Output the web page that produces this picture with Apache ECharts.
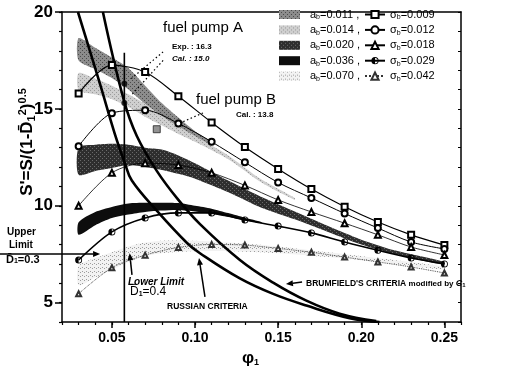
<!DOCTYPE html>
<html><head><meta charset="utf-8">
<script src="https://cdn.jsdelivr.net/npm/echarts@6/dist/echarts.min.js"></script>
<style>html,body{margin:0;padding:0;background:#fff}#c{width:506px;height:378px}</style>
</head><body><div id="c"></div><script>
// ---------- data ----------
const phi = [0.03,0.05,0.07,0.09,0.11,0.13,0.15,0.17,0.19,0.21,0.23,0.25];
const sig009 = [15.8,17.26,16.9,15.65,14.3,13.03,11.9,10.86,9.95,9.16,8.5,7.97];
const sig012 = [13.07,14.78,14.93,14.25,13.3,12.24,11.2,10.4,9.6,8.85,8.13,7.77];
const sig018 = [10.0,11.7,12.2,12.1,11.7,11.05,10.3,9.68,9.1,8.5,7.87,7.46];
const sig029 = [7.2,8.65,9.37,9.63,9.63,9.27,8.95,8.6,8.13,7.7,7.3,7.0];
const sig042 = [5.46,6.8,7.45,7.85,8.0,7.97,7.8,7.6,7.35,7.1,6.84,6.53];
const lineNames = ['σ_b=0.009','σ_b=0.012','σ_b=0.018','σ_b=0.029','σ_b=0.042'];
const bandNames = ['a_b=0.011','a_b=0.014','a_b=0.020','a_b=0.036','a_b=0.070'];
// bands: [phi, lower, upper]
const band011 = [[0.03,17.5,18.65],[0.04,17.05,18.15],[0.05,16.6,17.65],[0.06,16.0,17.1],[0.07,15.25,16.2],[0.08,14.6,15.3],[0.09,14.05,14.55],[0.10,13.55,13.85],[0.11,13.1,13.3]];
const band014 = [[0.03,15.95,16.85],[0.04,15.75,16.55],[0.05,15.5,16.2],[0.06,15.1,15.75],[0.07,14.6,15.25],[0.08,14.15,14.65],[0.09,13.7,14.1],[0.10,13.3,13.6],[0.12,12.4,12.6],[0.14,11.2,11.35],[0.16,10.3,10.4]];
const band020 = [[0.03,11.6,13.0],[0.04,11.8,13.15],[0.05,11.95,13.2],[0.06,12.1,13.15],[0.07,12.0,13.0],[0.08,11.85,12.9],[0.09,11.65,12.6],[0.10,11.4,12.2],[0.12,10.7,11.3],[0.14,9.9,10.45],[0.16,9.3,9.7],[0.18,8.65,8.95],[0.20,8.0,8.25],[0.22,7.5,7.7],[0.25,6.95,7.1]];
const band036 = [[0.03,8.5,9.15],[0.04,9.0,9.68],[0.05,9.37,9.94],[0.06,9.55,10.12],[0.07,9.68,10.15],[0.08,9.75,10.16],[0.09,9.78,10.14],[0.10,9.7,10.0],[0.11,9.58,9.85],[0.12,9.42,9.62],[0.13,9.25,9.38],[0.14,9.1,9.16]];
const band070 = [[0.03,5.9,6.9],[0.04,6.3,7.3],[0.05,6.7,7.6],[0.06,7.1,7.9],[0.07,7.4,8.1],[0.08,7.55,8.2],[0.10,7.65,8.2],[0.12,7.65,8.1],[0.15,7.55,7.9],[0.18,7.35,7.6],[0.21,7.1,7.3],[0.25,6.7,6.85]];
const russianX = [0.0296,0.0428,0.0518,0.0578,0.062,0.077,0.0952,0.103,0.127,0.147,0.167,0.193,0.211];
const russianY = [20,16.3,13.7,12.2,11.3,9.75,8.08,7.55,6.25,5.45,4.85,4.2,4.0];
const brumX = [0.0446,0.0572,0.065,0.077,0.09,0.103,0.127,0.147,0.167,0.187,0.209];
const brumY = [20,15.45,13.6,11.8,10.3,9.05,7.2,6.03,5.1,4.43,4.05];
const limitX = 0.0575, limitY = [4, 17.9];
const pumpA = [[0.0575,16.3],[0.0575,15.3]];
const pumpB = [[0.077,13.95]];
const xTickLabels = [0.05,0.10,0.15,0.20,0.25];
const yTickLabels = [5,10,15,20];

// ---------- helpers ----------
function pat(bg, dot, sparse){
  const c=document.createElement('canvas'); c.width=c.height=4;
  const g=c.getContext('2d'); g.fillStyle=bg; g.fillRect(0,0,4,4);
  g.fillStyle=dot; g.fillRect(0,0,1,1); if(!sparse){g.fillRect(2,2,1,1);} else {g.fillRect(2,3,1,1);}
  return {image:c, repeat:'repeat'};
}
const fills = [pat('#8c8c8c','#4a4a4a'), pat('#cfcfcf','#9a9a9a'), pat('#2e2e2e','#6a6a6a'), '#0d0d0d', pat('#f2f2f2','#9c9c9c',true)];
const bands = [band011, band014, band020, band036, band070];
const FONT = '"Liberation Sans", Arial, sans-serif';
const halfCircle = 'path://M10,0A10,10 0 1,1 10,20A10,10 0 1,1 10,0ZM10,2.5A7.5,7.5 0 1,0 10,17.5A7.5,7.5 0 1,0 10,2.5ZM10,2.5A7.5,7.5 0 0,0 10,17.5Z';

function bandSeries(i){
  const pts = bands[i];
  return {
    type:'custom', name:bandNames[i], z:1, data:pts, encode:{x:0,y:[1,2]},
    itemStyle:{color:fills[i]}, silent:true,
    renderItem:function(params, api){
      if(params.dataIndex!==0) return null;
      const up = pts.map(p=>api.coord([p[0],p[2]]));
      const lo = pts.slice().reverse().map(p=>api.coord([p[0],p[1]]));
      return {type:'polygon', shape:{points:up.concat(lo), smooth:0.25}, style:{fill:fills[i]}};
    }
  };
}
function lineSeries(name, ys, symbol, size, lw, extra){
  return Object.assign({
    type:'line', name, z:4, data:phi.map((x,i)=>[x,ys[i]]), symbol, symbolSize:size, smooth:0.3,
    lineStyle:{color:'#000', width:lw}, itemStyle:{color:'#000', borderColor:'#000', borderWidth:0.8}
  }, extra||{});
}
const series = [0,1,2,3,4].map(bandSeries).concat([
  lineSeries(lineNames[0], sig009, 'emptyRect', 6, 1.2),
  lineSeries(lineNames[1], sig012, 'emptyCircle', 6, 1.0),
  lineSeries(lineNames[2], sig018, 'emptyTriangle', 6, 0.8),
  lineSeries(lineNames[3], sig029, halfCircle, 7, 1.6, {itemStyle:{color:'#000', borderWidth:0}}),
  lineSeries(lineNames[4], sig042, 'emptyTriangle', 5, 0.9, {lineStyle:{color:'#333',width:0.9,type:'dotted'}, itemStyle:{color:'#333',borderColor:'#333',borderWidth:0.7}}),
  {type:'line', name:'russian', z:3, data:russianX.map((x,i)=>[x,russianY[i]]), symbol:'none', smooth:0.4, lineStyle:{color:'#000',width:2.6}},
  {type:'line', name:'brumfield', z:3, data:brumX.map((x,i)=>[x,brumY[i]]), symbol:'none', smooth:0.4, lineStyle:{color:'#000',width:2.6}},
  {type:'line', name:'limit', z:3, data:limitY.map(y=>[limitX,y]), symbol:'none', lineStyle:{color:'#000',width:1.6}},
  {type:'scatter', name:'pumpA', z:6, data:pumpA, symbol:'circle', symbolSize:6, itemStyle:{color:'#000'}},
  {type:'scatter', name:'pumpB', z:6, data:pumpB, symbol:'rect', symbolSize:7, itemStyle:{color:'#777', borderColor:'#222', borderWidth:1}}
]);

const subRich = {sub:{fontSize:7, lineHeight:8, verticalAlign:'bottom', fontFamily:FONT}};
const chart = echarts.init(document.getElementById('c'), null, {renderer:'canvas'});
const axisLine = {lineStyle:{color:'#000', width:1.5}};
chart.setOption({
  animation:false,
  grid:{left:62, right:45, top:12, bottom:56, containLabel:false},
  xAxis:[
    {type:'value', min:0.02, max:0.26, interval:0.01, position:'bottom', axisLine,
     axisTick:{length:3, lineStyle:{color:'#000',width:1.2}},
     axisLabel:{customValues:xTickLabels, formatter:v=>v.toFixed(2), fontSize:14, fontWeight:'bold', color:'#000', fontFamily:FONT, margin:9},
     splitLine:{show:false},
     name:'φ{sub|1}', nameLocation:'middle', nameGap:28, nameMoveOverlap:false,
     nameTextStyle:{fontSize:17, fontWeight:'bold', color:'#000', fontFamily:FONT, padding:[0,22,0,0], rich:{sub:{fontSize:9, fontWeight:'bold', verticalAlign:'bottom', lineHeight:10}}}},
    {type:'value', min:0.02, max:0.26, position:'bottom', axisLine:{show:false},
     axisTick:{customValues:xTickLabels, length:6, lineStyle:{color:'#000',width:1.5}}, axisLabel:{show:false}, splitLine:{show:false}},
    {type:'value', min:0.02, max:0.26, position:'top', axisLine, axisTick:{show:false}, axisLabel:{show:false}, splitLine:{show:false}}
  ],
  yAxis:[
    {type:'value', min:4, max:20, interval:1, position:'left', axisLine,
     axisTick:{length:3, lineStyle:{color:'#000',width:1.2}},
     axisLabel:{customValues:yTickLabels, fontSize:17, fontWeight:'bold', color:'#000', fontFamily:FONT, margin:9},
     splitLine:{show:false},
     name:"S'=S/(1-D̄{sub|1}{sup|2}){sup|0.5}", nameLocation:'middle', nameGap:25, nameRotate:90, nameMoveOverlap:false,
     nameTextStyle:{fontSize:17, fontWeight:'bold', color:'#000', fontFamily:FONT, lineHeight:20, padding:[0,0,0,50],
       rich:{sub:{fontSize:11,fontWeight:'bold',verticalAlign:'bottom',lineHeight:9}, sup:{fontSize:11,fontWeight:'bold',verticalAlign:'top',lineHeight:9}}}},
    {type:'value', min:4, max:20, position:'left', axisLine:{show:false},
     axisTick:{customValues:yTickLabels, length:7, lineStyle:{color:'#000',width:1.5}}, axisLabel:{show:false}, splitLine:{show:false}},
    {type:'value', min:4, max:20, interval:1, position:'right', axisLine,
     axisTick:{inside:true, length:3, lineStyle:{color:'#000'}}, axisLabel:{show:false}, splitLine:{show:false}}
  ],
  legend:[
    {data:bandNames.map(n=>({name:n, icon:'rect'})), orient:'vertical', left:279, top:8, padding:0,
     itemWidth:21, itemHeight:9, itemGap:2.4, selectedMode:false,
     formatter:n=>n.replace('a_b','a{sub|b}')+' ,',
     textStyle:{fontSize:11, color:'#000', fontFamily:FONT, lineHeight:13, padding:[0,0,0,5], rich:subRich}},
    {data:lineNames, orient:'vertical', left:364, top:8, padding:0,
     itemWidth:20, itemHeight:9, itemGap:2.4, selectedMode:false,
     formatter:n=>n.replace('σ_b','σ{sub|b}'),
     textStyle:{fontSize:11, color:'#000', fontFamily:FONT, lineHeight:13, rich:subRich}}
  ],
  series
});

// ---------- annotations (positions from data coordinates) ----------
const P = (x,y)=>chart.convertToPixel({xAxisIndex:0,yAxisIndex:0},[x,y]);
function arrowEls(a,b){
  const p1=P(a[0],a[1]), p2=P(b[0],b[1]);
  const ang=Math.atan2(p2[1]-p1[1],p2[0]-p1[0]), L=7, W=3;
  const hx=p2[0]-L*Math.cos(ang), hy=p2[1]-L*Math.sin(ang);
  const nx=-Math.sin(ang)*W, ny=Math.cos(ang)*W;
  return [
    {type:'line', shape:{x1:p1[0],y1:p1[1],x2:hx,y2:hy}, style:{stroke:'#000',lineWidth:1.5}, z:20},
    {type:'polygon', shape:{points:[[p2[0],p2[1]],[hx+nx,hy+ny],[hx-nx,hy-ny]]}, style:{fill:'#000'}, z:20}
  ];
}
function dotted(a,b){
  const p1=P(a[0],a[1]), p2=P(b[0],b[1]);
  return {type:'line', shape:{x1:p1[0],y1:p1[1],x2:p2[0],y2:p2[1]}, style:{stroke:'#000',lineWidth:1.2,lineDash:[1.5,2.5]}, z:20};
}
function txt(x,y,text,font,rich){
  return {type:'text', x, y, z:21, style:{text, font:font+' '+FONT, fill:'#000', rich:rich||{}}};
}
const sub9 = {sub:{fontSize:7, fontWeight:'bold', verticalAlign:'bottom', lineHeight:8}};
const els = [].concat(
  arrowEls([-0.0173,7.51],[0.0429,7.51]),
  arrowEls([0.0621,6.43],[0.0607,7.55]),
  arrowEls([0.106,5.3],[0.1024,7.3]),
  arrowEls([0.1644,6.06],[0.1547,5.96]),
  [dotted([0.0808,17.94],[0.0615,16.55]), dotted([0.0808,17.5],[0.0622,15.75]), dotted([0.1048,14.79],[0.091,14.27])],
  [
    txt(163,20,'fuel pump A','15px'),
    txt(172,43,'Exp. : 16.3','bold 8px'),
    txt(172,55,'Cal. : 15.0','italic bold 8px'),
    txt(196,92,'fuel pump B','15px'),
    txt(236,111,'Cal. : 13.8','bold 8px'),
    txt(7,227,'Upper','bold 10px'),
    txt(9,240,'Limit','bold 10px'),
    {type:'text', x:6, y:254, z:21, style:{text:'D̄{sub|1}=0.3', font:'bold 11px '+FONT, fill:'#000', rich:sub9}},
    txt(128,277,'Lower Limit','italic bold 10px'),
    {type:'text', x:130, y:286, z:21, style:{text:'D̄{sub|1}=0.4', font:'12px '+FONT, fill:'#000', rich:sub9}},
    txt(167,302,'RUSSIAN CRITERIA','bold 8.5px'),
    {type:'text', x:306, y:279, z:21, style:{text:"BRUMFIELD'S CRITERIA {m|modified by} {c|C}{sub|1}", font:'bold 8.5px '+FONT, fill:'#000',
      rich:{m:{fontSize:8, fontWeight:'bold', fontFamily:FONT}, c:{fontSize:9, fontStyle:'italic', fontWeight:'bold', fontFamily:FONT}, sub:{fontSize:6, fontWeight:'bold', verticalAlign:'bottom', lineHeight:7}}}}
  ]
);
chart.setOption({graphic:{elements:els}});
</script></body></html>
